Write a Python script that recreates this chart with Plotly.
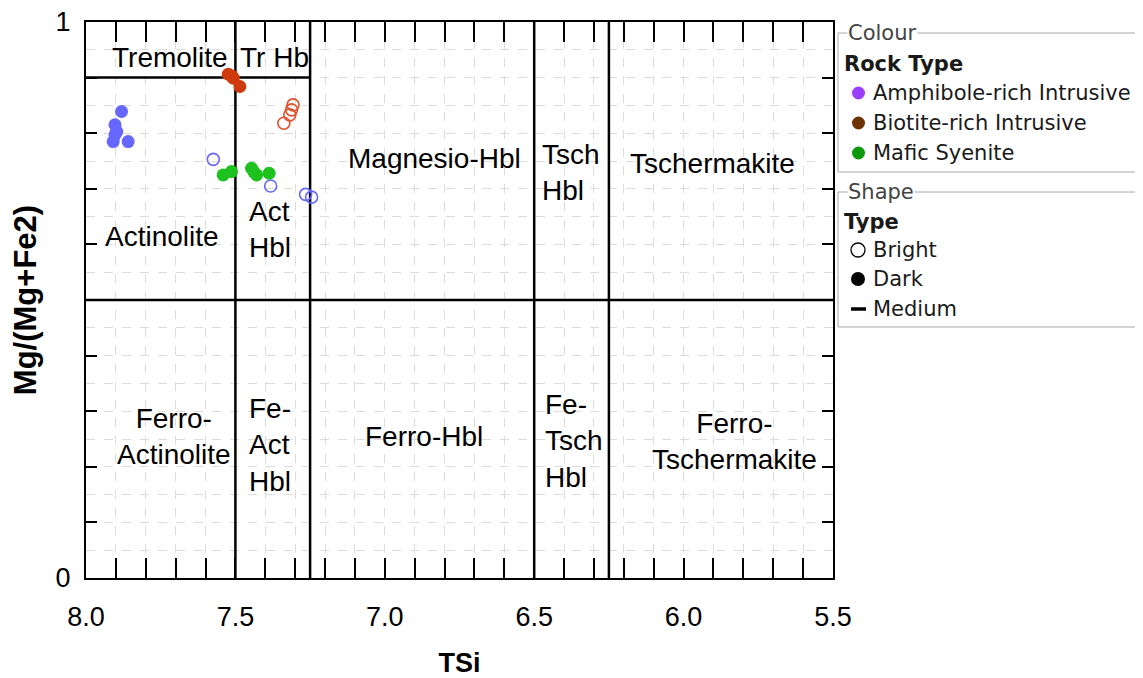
import plotly.graph_objects as go

# ---------------- data ----------------
amph_dark_tsi = [7.881, 7.903, 7.897, 7.909, 7.859, 7.903]
amph_dark_mg = [0.839, 0.815, 0.803, 0.785, 0.785, 0.797]
amph_bright_tsi = [7.574, 7.382, 7.265, 7.245]
amph_bright_mg = [0.753, 0.705, 0.690, 0.685]
bio_dark_tsi = [7.524, 7.512, 7.507, 7.485]
bio_dark_mg = [0.906, 0.903, 0.899, 0.884]
bio_bright_tsi = [7.307, 7.312, 7.318, 7.338]
bio_bright_mg = [0.851, 0.842, 0.833, 0.818]
mafic_dark_tsi = [7.541, 7.513, 7.446, 7.438, 7.429, 7.387]
mafic_dark_mg = [0.725, 0.731, 0.737, 0.730, 0.725, 0.728]

# classification boundaries
boundary_tsi = [7.5, 7.25, 6.5, 6.25]
upper_mg_boundary = 0.9      # applies for TSi between 8.0 and 7.25
upper_mg_tsi_end = 7.25
mid_mg_boundary = 0.5

x_tick_vals = [8.0, 7.5, 7.0, 6.5, 6.0, 5.5]
x_tick_text = ["8.0", "7.5", "7.0", "6.5", "6.0", "5.5"]
y_tick_vals = [0, 1]
y_tick_text = ["0", "1"]

# field names
field_labels_centered = ["Tremolite", "Actinolite", "Magnesio-Hbl", "Tschermakite",
                         "Ferro-<br>Actinolite", "Ferro-Hbl", "Ferro-<br>Tschermakite"]
field_centered_tsi = [7.719, 7.745, 6.833, 5.903, 7.705, 6.870, 5.829]
field_centered_mg = [0.937, 0.615, 0.755, 0.746, 0.254, 0.254, 0.245]
field_labels_left = ["Tr Hb", "Act<br>Hbl", "Tsch<br>Hbl", "Fe-<br>Act<br>Hbl", "Fe-<br>Tsch<br>Hbl"]
field_left_tsi = [7.49, 7.46, 6.48, 7.46, 6.472]
field_left_mg = [0.937, 0.626, 0.730, 0.239, 0.246]

legend_rock_types = ["Amphibole-rich Intrusive", "Biotite-rich Intrusive", "Mafic Syenite"]
legend_rock_colors = ["#9b3dff", "#6a3300", "#0c9a0c"]
legend_shape_types = ["Bright", "Dark", "Medium"]

BLUE = "#6767ff"
RED = "#cf3a0c"
RED_OPEN = "#e0522c"
GREEN = "#1ec21e"

fig = go.Figure()


def add_pts(x, y, color, filled, name):
    if filled:
        marker = dict(size=13, color=color, symbol="circle", line=dict(width=0))
    else:
        marker = dict(size=12, color=color, symbol="circle-open",
                      line=dict(width=1.6, color=color))
    fig.add_trace(go.Scatter(x=x, y=y, mode="markers", marker=marker, name=name,
                             showlegend=False, xaxis="x", yaxis="y"))


add_pts(amph_dark_tsi, amph_dark_mg, BLUE, True, "Amphibole-rich Intrusive (Dark)")
add_pts(amph_bright_tsi, amph_bright_mg, BLUE, False, "Amphibole-rich Intrusive (Bright)")
add_pts(bio_dark_tsi, bio_dark_mg, RED, True, "Biotite-rich Intrusive (Dark)")
add_pts(bio_bright_tsi, bio_bright_mg, RED_OPEN, False, "Biotite-rich Intrusive (Bright)")
add_pts(mafic_dark_tsi, mafic_dark_mg, GREEN, True, "Mafic Syenite (Dark)")

# invisible helper trace so the fine-grid overlay axis exists
fig.add_trace(go.Scatter(x=[None], y=[None], mode="markers", showlegend=False,
                         hoverinfo="skip", xaxis="x", yaxis="y2"))

# boundary lines
line_style = dict(color="black", width=2.5)
for t in boundary_tsi:
    fig.add_shape(type="line", xref="x", yref="y", x0=t, x1=t, y0=0, y1=1,
                  line=line_style, layer="between")
fig.add_shape(type="line", xref="x", yref="y", x0=x_tick_vals[0], x1=upper_mg_tsi_end,
              y0=upper_mg_boundary, y1=upper_mg_boundary, line=line_style, layer="between")
fig.add_shape(type="line", xref="x", yref="y", x0=x_tick_vals[0], x1=x_tick_vals[-1],
              y0=mid_mg_boundary, y1=mid_mg_boundary, line=line_style, layer="between")

label_font = dict(family="Liberation Sans, Arial, sans-serif", size=28, color="black")
for txt, xx, yy in zip(field_labels_centered, field_centered_tsi, field_centered_mg):
    fig.add_annotation(x=xx, y=yy, xref="x", yref="y", text=txt, showarrow=False,
                       font=label_font, align="center", xanchor="center", yanchor="middle")
for txt, xx, yy in zip(field_labels_left, field_left_tsi, field_left_mg):
    fig.add_annotation(x=xx, y=yy, xref="x", yref="y", text=txt, showarrow=False,
                       font=label_font, align="left", xanchor="left", yanchor="middle")

# ---------------- layout geometry (page pixels; page body has an 8px offset) ----------------
OFF = 8
W, H = 1143 - OFF, 678 - OFF
PL, PR, PT, PB = 86, 833, 22, 578


def fx(px):
    return (px - PL) / (PR - PL)


def fy(py):
    return (PB - py) / (PB - PT)


leg_font = dict(family="DejaVu Sans, sans-serif", size=21, color="#1a1a1a")
frame_line = dict(color="#a8a8a8", width=1)

# frames
fig.add_shape(type="rect", xref="paper", yref="paper", x0=fx(838), x1=fx(1170),
              y0=fy(172), y1=fy(33), line=frame_line, layer="above")
fig.add_shape(type="rect", xref="paper", yref="paper", x0=fx(838), x1=fx(1170),
              y0=fy(327), y1=fy(192), line=frame_line, layer="above")
for ttl, ty in (("Colour", 33), ("Shape", 192)):
    fig.add_annotation(x=fx(847), y=fy(ty), xref="paper", yref="paper", text=ttl,
                       showarrow=False, xanchor="left", yanchor="middle", bgcolor="white",
                       font=dict(family="DejaVu Sans, sans-serif", size=21, color="#444"),
                       borderpad=0)
fig.add_annotation(x=fx(842), y=fy(64), xref="paper", yref="paper", text="<b>Rock Type</b>",
                   showarrow=False, xanchor="left", yanchor="middle", font=leg_font)
fig.add_annotation(x=fx(842), y=fy(222), xref="paper", yref="paper", text="<b>Type</b>",
                   showarrow=False, xanchor="left", yanchor="middle", font=leg_font)

rock_rows = [93, 123, 153]
for name, col, ry in zip(legend_rock_types, legend_rock_colors, rock_rows):
    fig.add_shape(type="circle", xref="paper", yref="paper",
                  x0=fx(852), x1=fx(865), y0=fy(ry + 6.5), y1=fy(ry - 6.5),
                  fillcolor=col, line=dict(width=0), layer="above")
    fig.add_annotation(x=fx(871), y=fy(ry), xref="paper", yref="paper", text=name,
                       showarrow=False, xanchor="left", yanchor="middle", font=leg_font)

shape_rows = [250, 279, 309]
fig.add_shape(type="circle", xref="paper", yref="paper",
              x0=fx(851), x1=fx(865), y0=fy(shape_rows[0] + 7), y1=fy(shape_rows[0] - 7),
              fillcolor="white", line=dict(width=1.3, color="black"), layer="above")
fig.add_shape(type="circle", xref="paper", yref="paper",
              x0=fx(851), x1=fx(865), y0=fy(shape_rows[1] + 7), y1=fy(shape_rows[1] - 7),
              fillcolor="black", line=dict(width=0), layer="above")
fig.add_shape(type="line", xref="paper", yref="paper",
              x0=fx(851), x1=fx(866), y0=fy(shape_rows[2]), y1=fy(shape_rows[2]),
              line=dict(width=3.5, color="black"), layer="above")
for name, ry in zip(legend_shape_types, shape_rows):
    fig.add_annotation(x=fx(871), y=fy(ry), xref="paper", yref="paper", text=name,
                       showarrow=False, xanchor="left", yanchor="middle", font=leg_font)

axis_font = dict(family="Liberation Sans, Arial, sans-serif", size=27, color="black")
xtitle_font = dict(family="Liberation Sans, Arial, sans-serif", size=27, color="black")
ytitle_font = dict(family="Liberation Sans, Arial, sans-serif", size=31, color="black")

fig.update_layout(
    width=W, height=H,
    margin=dict(l=PL - OFF, r=W - (PR - OFF), t=PT - OFF, b=H - (PB - OFF), autoexpand=False),
    paper_bgcolor="white", plot_bgcolor="white",
    showlegend=False,
    xaxis=dict(
        range=[x_tick_vals[0], x_tick_vals[-1]],
        tickvals=x_tick_vals, ticktext=x_tick_text,
        ticks="inside", ticklen=20, tickwidth=2, tickcolor="black",
        ticklabelstandoff=14, ticklabeloverflow="allow",
        tickfont=axis_font,
        showgrid=True, gridcolor="#dcdcdc", griddash="dash", gridwidth=1,
        minor=dict(dtick=0.1, ticks="inside", ticklen=11, tickwidth=2, tickcolor="black",
                   showgrid=True, gridcolor="#dcdcdc", griddash="dash", gridwidth=1),
        showline=True, linecolor="black", linewidth=2, mirror="allticks",
        zeroline=False, automargin=False,
        title=dict(text="<b>TSi</b>", font=xtitle_font, standoff=30),
    ),
    yaxis=dict(
        range=[0, 1],
        tickvals=y_tick_vals, ticktext=y_tick_text,
        ticks="inside", ticklen=11, tickwidth=2, tickcolor="black",
        tickfont=axis_font, ticklabelstandoff=8, ticklabeloverflow="allow",
        minor=dict(dtick=0.1, ticks="inside", ticklen=11, tickwidth=2, tickcolor="black",
                   showgrid=False),
        showgrid=False, zeroline=False, automargin=False,
        showline=True, linecolor="black", linewidth=2, mirror="allticks",
        title=dict(text="<b>Mg/(Mg+Fe2)</b>", font=ytitle_font, standoff=10),
    ),
    yaxis2=dict(
        overlaying="y", side="right", range=[0, 1], dtick=0.05,
        showgrid=True, gridcolor="#dcdcdc", griddash="dash", gridwidth=1,
        ticks="", showticklabels=False, showline=False, zeroline=False, automargin=False,
    ),
)

fig.write_html("out.html")
